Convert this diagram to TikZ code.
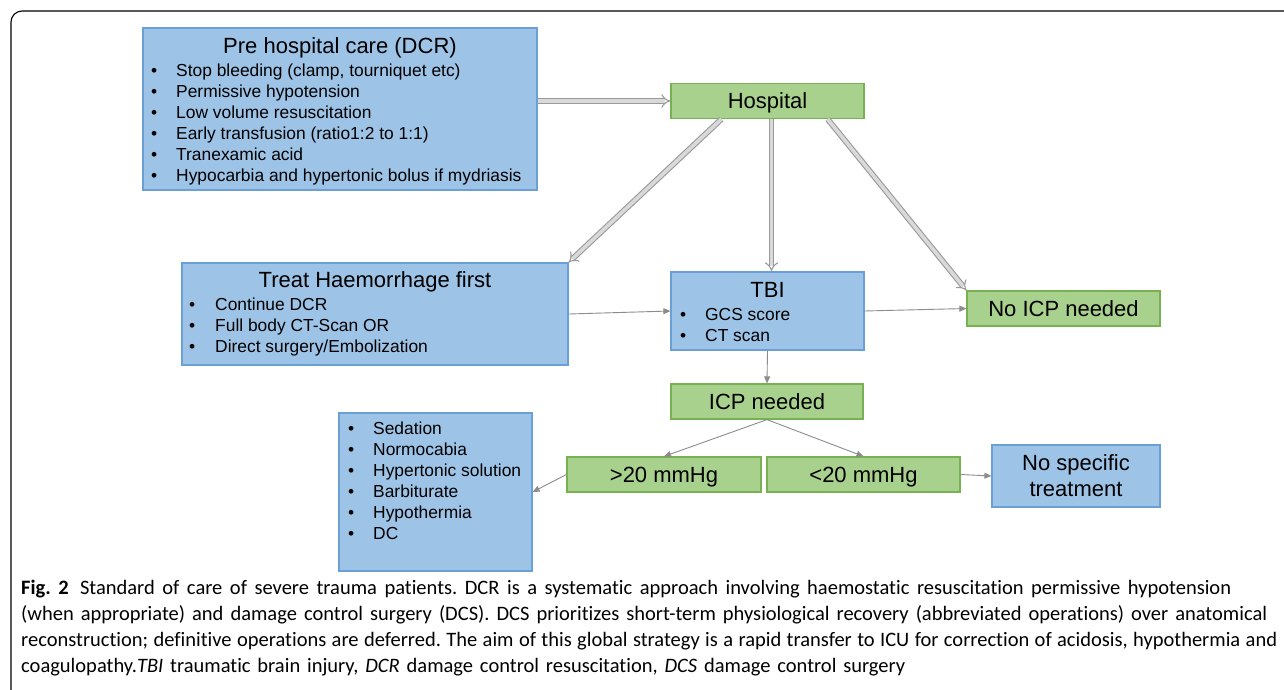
\documentclass[tikz,border=0pt]{standalone}
\usepackage{fontspec}
\setmainfont{Liberation Sans}
\newfontfamily\capfont[Ligatures=NoCommon]{Carlito}
\usetikzlibrary{arrows.meta,calc}
\frenchspacing
\definecolor{bfill}{HTML}{9DC3E6}
\definecolor{bdraw}{HTML}{6A9FD8}
\definecolor{gfill}{HTML}{A9D18E}
\definecolor{gdraw}{HTML}{78B151}
\definecolor{arrowgray}{HTML}{8C8C8C}
\definecolor{dblout}{HTML}{9A9A9A}
\definecolor{dblin}{HTML}{D9D9D9}
\begin{document}
\begin{tikzpicture}[x=1pt,y=-1pt,
  bluebox/.style={draw=bdraw, fill=bfill, line width=1.2pt, inner sep=0pt, rectangle},
  greenbox/.style={draw=gdraw, fill=gfill, line width=1.2pt, inner sep=0pt, rectangle,
    font=\fontsize{22}{26}\selectfont, text height=15.8pt, text depth=0pt},
  headtxt/.style={font=\fontsize{22}{26}\selectfont, inner sep=0pt, anchor=base},
  blist/.style={font=\fontsize{17.4}{21}\selectfont, inner sep=0pt, anchor=base west},
  conn/.style={draw=arrowgray, line width=0.9pt, -{Triangle[length=7pt,width=6pt]}},
  dbl/.style={draw=dblout, line width=1.1pt, double=dblin, double distance=3.6pt, -{Implies}},
  capline/.style={font=\capfont\fontsize{20.5}{26}\selectfont\frenchspacing, inner sep=0pt, anchor=base west}
]
\useasboundingbox (0,0) rectangle (1284,689);
\clip (0,0) rectangle (1284,689);
\fill[white] (0,0) rectangle (1284,689);
% frame
\draw[line width=1.1pt, rounded corners=11pt] (11,700) -- (11,11) -- (1300,11);

% Pre hospital
\node[bluebox, minimum width=394pt, minimum height=162pt] (pre) at (340,109) {};
\node[headtxt] (pretitle) at (340,53) {Pre hospital care (DCR)};
\node[blist] (prelist) at (151,76) {\begin{tabular}[t]{@{}p{25pt}@{}l@{}}
• & Stop bleeding (clamp, tourniquet etc)\\
• & Permissive hypotension\\
• & Low volume resuscitation\\
• & Early transfusion (ratio1:2 to 1:1)\\
• & Tranexamic acid\\
• & Hypocarbia and hypertonic bolus if mydriasis
\end{tabular}};

% Hospital
\node[greenbox, minimum width=193pt, minimum height=35pt] (hosp) at (767.5,101) {Hospital};

% Treat haemorrhage
\node[bluebox, minimum width=386pt, minimum height=102pt] (treat) at (375,314) {};
\node[headtxt] (treattitle) at (375,287) {Treat Haemorrhage first};
\node[blist] (treatlist) at (189,310) {\begin{tabular}[t]{@{}p{26pt}@{}l@{}}
• & Continue DCR\\
• & Full body CT-Scan OR\\
• & Direct surgery/Embolization
\end{tabular}};

% TBI
\node[bluebox, minimum width=193pt, minimum height=78pt] (tbi) at (767.5,311) {};
\node[headtxt] (tbititle) at (767.5,297) {TBI};
\node[blist] (tbilist) at (680,320) {\begin{tabular}[t]{@{}p{25pt}@{}l@{}}
• & GCS score\\
• & CT scan
\end{tabular}};

% No ICP
\node[greenbox, minimum width=193pt, minimum height=35pt] (noicp) at (1063.5,308.5) {No ICP needed};

% ICP needed
\node[greenbox, minimum width=192pt, minimum height=35pt] (icp) at (767,401.5) {ICP needed};
\node[greenbox, minimum width=194pt, minimum height=35pt] (gt) at (664,474.5) {>20 mmHg};
\node[greenbox, minimum width=193pt, minimum height=35pt] (lt) at (863.5,474.5) {<20 mmHg};
\node[bluebox, minimum width=168pt, minimum height=62pt, align=center,
  font=\fontsize{22}{26}\selectfont] (nospec) at (1076,476) {No specific\\treatment};

% Sedation list
\node[bluebox, minimum width=193pt, minimum height=158pt] (sed) at (435.5,492) {};
\node[blist] (sedlist) at (348,434) {\begin{tabular}[t]{@{}p{25pt}@{}l@{}}
• & Sedation\\
• & Normocabia\\
• & Hypertonic solution\\
• & Barbiturate\\
• & Hypothermia\\
• & DC
\end{tabular}};

% connectors
\draw[dbl] (pre.east |- hosp.west) -- (hosp.west);
\draw[dbl] ([xshift=51pt]hosp.south west) -- (treat.north east);
\draw[dbl] ([xshift=4pt]hosp.south) -- ([xshift=4pt]tbi.north);
\draw[dbl] ([xshift=-37pt]hosp.south east) -- (noicp.north west);
\draw[conn] (treat.east) -- (tbi.west);
\draw[conn] (tbi.east) -- (noicp.west);
\draw[conn] (tbi.south) -- (icp.north);
\draw[conn] (icp.south) -- (gt.north);
\draw[conn] (icp.south) -- (lt.north);
\draw[conn] (gt.west) -- (sed.east);
\draw[conn] (lt.east) -- (nospec.west);

% caption
\node[capline] (cap1) at (21,594) {\makebox[1210pt][s]{\textbf{Fig.~2}\hspace{0.55em}Standard of care of severe trauma patients. DCR is a systematic approach involving haemostatic resuscitation permissive hypotension}};
\node[capline] (cap2) at (21,620) {\makebox[1246pt][s]{(when appropriate) and damage control surgery (DCS). DCS prioritizes short-term physiological recovery (abbreviated operations) over anatomical}};
\node[capline] (cap3) at (21,646) {\makebox[1256pt][s]{reconstruction; definitive operations are deferred. The aim of this global strategy is a rapid transfer to ICU for correction of acidosis, hypothermia and}};
\node[capline] (cap4) at (21,672) {\makebox[884pt][s]{coagulopathy.\textit{TBI} traumatic brain injury, \textit{DCR} damage control resuscitation, \textit{DCS} damage control surgery}};
\end{tikzpicture}
\end{document}
